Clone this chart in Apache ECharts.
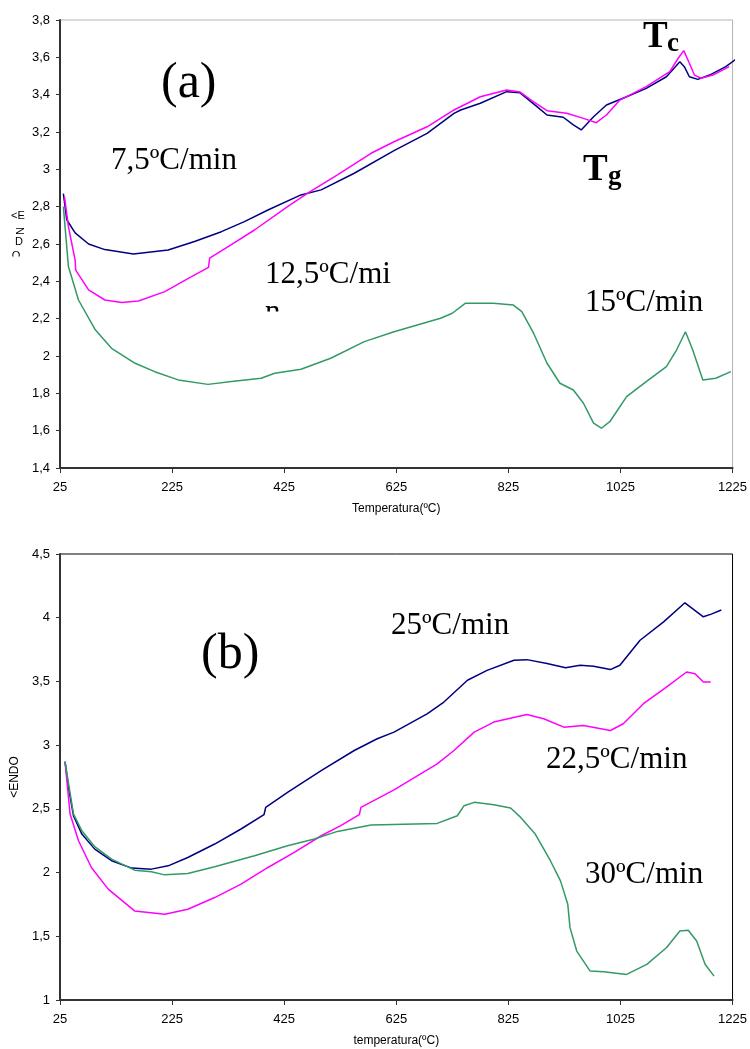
<!DOCTYPE html>
<html><head><meta charset="utf-8">
<script src="https://cdn.jsdelivr.net/npm/echarts@6/dist/echarts.min.js"></script>
<style>html,body{margin:0;padding:0;background:#fff}#c{width:750px;height:1049px}</style>
</head><body><div id="c"></div>
<script>
// ---------- data ----------
const xTickValues = [25, 225, 425, 625, 825, 1025, 1225];
const xTitleA = 'Temperatura(ºC)';
const xTitleB = 'temperatura(ºC)';
const yTitle = '<ENDO';

// (a) panel
const a_rate7_5 = [[31,2.87],[37,2.73],[52,2.66],[76,2.60],[105,2.57],[156,2.547],[218,2.568],[265,2.613],[313,2.666],[354,2.72],[396,2.782],[455,2.863],[491,2.89],[550,2.979],[621,3.10],[680,3.193],[728,3.30],[740,3.318],[775,3.354],[822,3.416],[846,3.41],[876,3.336],[894,3.291],[923,3.279],[941,3.238],[955,3.211],[977,3.282],[1000,3.345],[1036,3.389],[1071,3.434],[1107,3.496],[1131,3.577],[1139,3.55],[1148,3.496],[1163,3.482],[1184,3.505],[1213,3.55],[1231,3.59]];
const a_rate12_5 = [[33,2.854],[40,2.693],[52,2.514],[53,2.46],[76,2.354],[105,2.30],[135,2.286],[165,2.295],[212,2.345],[254,2.416],[290,2.475],[292,2.524],[325,2.586],[372,2.675],[431,2.80],[467,2.872],[520,2.97],[580,3.086],[621,3.148],[680,3.228],[728,3.318],[775,3.389],[822,3.425],[846,3.414],[870,3.362],[894,3.314],[929,3.30],[959,3.273],[982,3.25],[1000,3.291],[1024,3.371],[1071,3.443],[1113,3.523],[1128,3.595],[1138,3.636],[1148,3.568],[1157,3.505],[1169,3.488],[1190,3.505],[1219,3.55]];
const a_rate15 = [[31,2.80],[40,2.479],[58,2.30],[88,2.14],[117,2.041],[159,1.961],[194,1.916],[236,1.872],[289,1.848],[331,1.863],[384,1.881],[408,1.908],[455,1.929],[508,1.988],[568,2.077],[621,2.13],[704,2.202],[725,2.229],[748,2.282],[798,2.282],[834,2.273],[849,2.238],[870,2.122],[894,1.961],[917,1.854],[941,1.818],[959,1.747],[977,1.64],[991,1.613],[1006,1.648],[1036,1.782],[1071,1.863],[1107,1.943],[1125,2.032],[1141,2.13],[1154,2.032],[1172,1.872],[1195,1.881],[1222,1.916]];

// (b) panel
const b_rate25 = [[34,2.87],[40,2.67],[49,2.446],[64,2.302],[87,2.184],[117,2.093],[153,2.035],[188,2.027],[218,2.053],[253,2.118],[301,2.224],[348,2.342],[389,2.454],[392,2.512],[431,2.63],[491,2.80],[550,2.958],[591,3.05],[621,3.102],[680,3.246],[710,3.338],[752,3.509],[787,3.587],[835,3.666],[858,3.671],[894,3.64],[927,3.608],[953,3.627],[977,3.619],[1007,3.593],[1024,3.627],[1060,3.823],[1102,3.967],[1140,4.117],[1173,4.007],[1187,4.028],[1205,4.06]];
const b_rate22_5 = [[34,2.87],[43,2.46],[58,2.25],[81,2.04],[111,1.87],[158,1.699],[212,1.673],[253,1.712],[301,1.804],[348,1.909],[396,2.04],[443,2.158],[491,2.289],[526,2.368],[559,2.454],[562,2.512],[621,2.649],[698,2.853],[728,2.958],[764,3.102],[799,3.181],[858,3.241],[888,3.207],[924,3.141],[959,3.154],[1007,3.115],[1030,3.168],[1066,3.325],[1107,3.456],[1143,3.574],[1158,3.561],[1173,3.495],[1186,3.495]];
const b_rate30 = [[34,2.87],[49,2.46],[64,2.328],[87,2.203],[117,2.106],[158,2.019],[188,2.006],[212,1.982],[253,1.993],[301,2.045],[372,2.132],[431,2.21],[479,2.263],[520,2.323],[580,2.373],[698,2.386],[734,2.446],[746,2.525],[764,2.551],[799,2.533],[829,2.507],[847,2.433],[873,2.302],[900,2.093],[918,1.935],[931,1.752],[935,1.568],[947,1.384],[971,1.227],[995,1.221],[1036,1.201],[1072,1.28],[1107,1.41],[1131,1.542],[1146,1.547],[1161,1.463],[1176,1.28],[1192,1.187]];

// ---------- chart ----------
const NAVY = '#000080', MAG = '#FF00FF', GRN = '#339966';
const SANS = '"Liberation Sans", Arial, sans-serif';
const SERIF = '"Liberation Serif", "Times New Roman", serif';
const fmtY = v => String(Math.round(v * 10) / 10).replace('.', ',');
const fmtX = v => String(Math.round(v));

function xAxis(gi, name) {
  return {
    type: 'value', gridIndex: gi, min: 25, max: 1225,
    axisLine: { show: true, lineStyle: { color: '#333', width: 2 } },
    axisTick: { show: true, customValues: xTickValues, length: 5, lineStyle: { color: '#333' } },
    axisLabel: { customValues: xTickValues, formatter: fmtX, fontSize: 13, color: '#000', fontFamily: SANS, margin: 13 },
    splitLine: { show: false },
    name: name, nameLocation: 'middle', nameGap: 35,
    nameTextStyle: { fontSize: 12, color: '#000', fontFamily: SANS }
  };
}
function yAxis(gi, min, max, interval, name) {
  return {
    type: 'value', gridIndex: gi, min: min, max: max, interval: interval,
    axisLine: { show: true, lineStyle: { color: '#333', width: 2 } },
    axisTick: { show: true, length: 4, lineStyle: { color: '#333' } },
    axisLabel: { formatter: fmtY, fontSize: 13, color: '#000', fontFamily: SANS, margin: 10 },
    splitLine: { show: false },
    name: name, nameLocation: 'middle', nameGap: 38, nameRotate: 90,
    nameTextStyle: { fontSize: 12, color: '#000', fontFamily: SANS }
  };
}
function line(name, data, color, gi) {
  return { name, type: 'line', data, xAxisIndex: gi, yAxisIndex: gi, showSymbol: false, symbol: 'none',
    clip: false, lineStyle: { color, width: 1.5 }, itemStyle: { color } };
}
function txt(text, x, y, size, bold, extra) {
  return Object.assign({ type: 'text', x: x, y: y, z: 50,
    style: { text: text, font: (bold ? 'bold ' : '') + size + 'px ' + SERIF, fill: '#000', align: 'left', verticalAlign: 'middle' } }, extra || {});
}

const chart = echarts.init(document.getElementById('c'), null, { renderer: 'canvas' });
chart.setOption({
  animation: false,
  backgroundColor: '#fff',
  grid: [
    { left: 60, top: 20, width: 674.5, height: 448, show: true, borderColor: '#b3b3b3', borderWidth: 1, backgroundColor: 'transparent' },
    { left: 60, top: 554, width: 674.5, height: 446, show: true, borderColor: '#000', borderWidth: 1, backgroundColor: 'transparent' }
  ],
  xAxis: [xAxis(0, xTitleA), xAxis(1, xTitleB)],
  yAxis: [yAxis(0, 1.4, 3.8, 0.2, ''), yAxis(1, 1, 4.5, 0.5, yTitle)],
  series: [
    line('7,5ºC/min', a_rate7_5, NAVY, 0),
    line('12,5ºC/min', a_rate12_5, MAG, 0),
    line('15ºC/min', a_rate15, GRN, 0),
    line('25ºC/min', b_rate25, NAVY, 1),
    line('22,5ºC/min', b_rate22_5, MAG, 1),
    line('30ºC/min', b_rate30, GRN, 1)
  ],
  graphic: [
    txt('(a)', 161, 84, 50, false),
    txt('7,5ºC/min', 111, 161, 31, false),
    txt('12,5ºC/mi', 265, 274.5, 31, false),
    txt('n', 265, 313, 31, false),
    { type: 'rect', z: 60, shape: { x: 258, y: 311.5, width: 36, height: 20 }, style: { fill: '#fff' } },
    txt('15ºC/min', 585, 303, 31, false),
    txt('T', 643, 37.5, 37, true),
    txt('c', 667, 44, 27, true),
    txt('T', 583, 170.5, 37, true),
    txt('g', 608, 177, 27, true),
    txt('(b)', 201, 655, 50, false),
    txt('25ºC/min', 391, 626, 31, false),
    txt('22,5ºC/min', 546, 759.5, 31, false),
    txt('30ºC/min', 585, 874.5, 31, false),
    // clipped vertical axis title of panel (a)
    { type: 'text', x: 18, y: 216, z: 50, style: { text: '<E', font: '11px ' + SANS, fill: '#000', align: 'center', verticalAlign: 'middle' } },
    { type: 'text', x: 19, y: 231, z: 50, rotation: -Math.PI / 2, style: { text: 'N', font: '11px ' + SANS, fill: '#000', align: 'center', verticalAlign: 'middle' } },
    { type: 'text', x: 19, y: 241.5, z: 50, style: { text: 'D', font: '11px ' + SANS, fill: '#000', align: 'center', verticalAlign: 'middle' } },
    { type: 'text', x: 16, y: 256, z: 50, style: { text: 'O', font: '11px ' + SANS, fill: '#000', align: 'center', verticalAlign: 'middle' } },
    { type: 'rect', z: 60, shape: { x: 8, y: 256.5, width: 16, height: 8 }, style: { fill: '#fff' } }
  ]
});
</script>
</body></html>
